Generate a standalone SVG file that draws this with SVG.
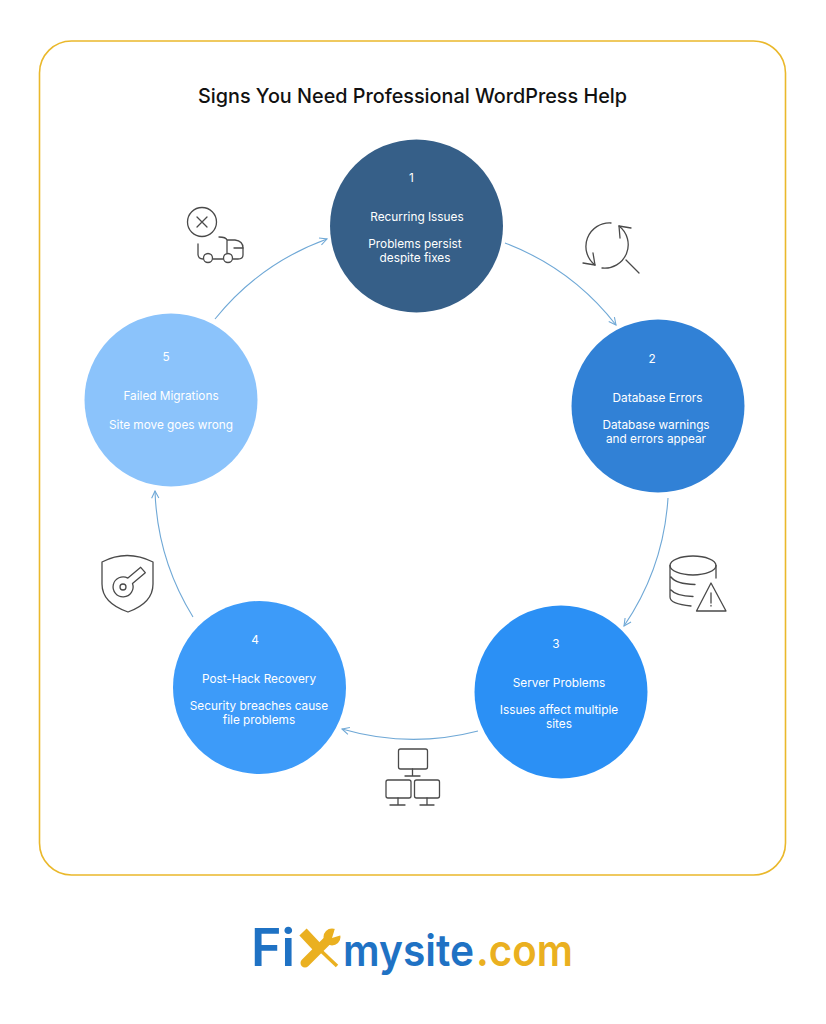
<svg xmlns="http://www.w3.org/2000/svg" width="826" height="1024" viewBox="0 0 826 1024">
<style>
.t{font-family:"Inter","Open Sans",sans-serif;font-size:11.800px;fill:#fff;text-anchor:middle}
.c{fill:none;stroke:#6fa8d6;stroke-width:1.1}
.i{fill:none;stroke:#4a4a4a;stroke-width:1.300;stroke-linecap:round;stroke-linejoin:round}
.l{font-family:"Inter","Open Sans",sans-serif;font-weight:600}
</style>
<defs>
<marker id="a" viewBox="0 0 10 10" refX="9" refY="5" markerWidth="9" markerHeight="9" orient="auto" markerUnits="userSpaceOnUse"><path d="M1 1L9 5L1 9" fill="none" stroke="#6fa8d6" stroke-width="1.2"/></marker>
</defs>
<rect width="826" height="1024" fill="#fff"/>
<rect x="39.500" y="41" width="746" height="834" rx="32" fill="#fff" stroke="#eab82b" stroke-width="1.600"/>
<text x="412.500" y="103" text-anchor="middle" font-family="Inter,Open Sans,sans-serif" font-size="20" font-weight="500" fill="#111" textLength="429" lengthAdjust="spacingAndGlyphs">Signs You Need Professional WordPress Help</text>
<g id="connectors">
<path class="c" marker-end="url(#a)" d="M505 243A256 256 0 0 1 616 325"/>
<path class="c" marker-end="url(#a)" d="M668 498A256 256 0 0 1 624 626"/>
<path class="c" marker-end="url(#a)" d="M478 731A256 256 0 0 1 342 729"/>
<path class="c" marker-end="url(#a)" d="M193 617A256 256 0 0 1 155 491"/>
<path class="c" marker-end="url(#a)" d="M215 319A256 256 0 0 1 327 239"/>
</g>
<g id="node1"><circle cx="416.500" cy="226" r="86.500" fill="#365f88"/>
<text class="t" x="411.500" y="182">1</text><text class="t" x="417" y="221">Recurring Issues</text><text class="t" x="415" y="248">Problems persist</text><text class="t" x="415" y="262">despite fixes</text></g>
<g id="node2"><circle cx="658" cy="406" r="86.500" fill="#3181d6"/>
<text class="t" x="652" y="363">2</text><text class="t" x="657.500" y="402">Database Errors</text><text class="t" x="656" y="429">Database warnings</text><text class="t" x="656" y="443">and errors appear</text></g>
<g id="node3"><circle cx="561" cy="692" r="86.500" fill="#2b90f5"/>
<text class="t" x="556" y="648">3</text><text class="t" x="559" y="687">Server Problems</text><text class="t" x="559" y="714">Issues affect multiple</text><text class="t" x="559" y="728">sites</text></g>
<g id="node4"><circle cx="259.500" cy="687.500" r="86.500" fill="#3d9bf9"/>
<text class="t" x="255" y="644">4</text><text class="t" x="259" y="683">Post-Hack Recovery</text><text class="t" x="259" y="710">Security breaches cause</text><text class="t" x="259" y="724">file problems</text></g>
<g id="node5"><circle cx="171" cy="400" r="86.500" fill="#8bc3fb"/>
<text class="t" x="166" y="361">5</text><text class="t" x="171" y="400">Failed Migrations</text><text class="t" x="171" y="429">Site move goes wrong</text></g>
<g id="icon-truck" class="i">
<circle cx="202" cy="222" r="14.500"/><path d="M197 217L207 227M207 217L197 227"/>
<path d="M198 244V254Q198 259 203 259M213 259H223M233 259H238Q243 259 243 255V248Q243 241 235 240H227M227 240Q226 237 219 237M227 240V253"/>
<circle cx="208" cy="258" r="4.500"/><circle cx="228" cy="258" r="4.500"/><path d="M234 248H243"/>
</g>
<g id="icon-refresh" class="i">
<path d="M611 223A23.500 23.500 0 0 0 595 265M602 268A23.500 23.500 0 0 0 619 226"/>
<path d="M583 263L595 265L593 253M631 228L619 226L620 238"/>
<path d="M626 260L639 273"/>
</g>
<g id="icon-db" class="i">
<ellipse cx="693" cy="565.500" rx="23" ry="9.500"/>
<path d="M670 565.500V597Q670 604 691 606M716 565.500V578M671 577Q676 584 695 584.500M671 590Q676 596 693 596.500"/>
<path d="M711 583L726 611H696.500Z"/><path d="M711 593V603M711 605.500V606"/>
</g>
<g id="icon-network" class="i">
<rect x="398.500" y="749" width="29" height="20" rx="2"/><path d="M412.500 769V776M405 776H420"/>
<rect x="386" y="780" width="25" height="18" rx="2"/><path d="M398 798V805M390 805H405"/>
<rect x="414.500" y="780" width="25" height="18" rx="2"/><path d="M427 798V805M420 805H434"/>
</g>
<g id="icon-shield" class="i">
<path d="M102 562Q127 549 153 562V584Q153 603 128 612Q102 603 102 584Z"/>
<path d="M127.900 578.100L140.700 567.300L145.300 572.700L132.500 583.500A10 10 0 1 1 127.900 578.100Z"/>
<circle cx="123" cy="587" r="3"/>
</g>
<g id="logo">
<text class="l" x="251" y="966" fill="#1f72c4" font-size="52" textLength="44" lengthAdjust="spacingAndGlyphs">Fi</text>
<g id="logo-tools">
<path d="M303 932L318 948" stroke="#eab020" stroke-width="10" fill="none"/>
<path d="M318 948L337 966" stroke="#eab020" stroke-width="3.500" fill="none"/>
<path d="M305 963L327 941" stroke="#eab020" stroke-width="9" stroke-linecap="round" fill="none"/>
<circle cx="332" cy="937" r="8.500" fill="#eab020"/>
<path d="M332 938L336 925L345 934Z" fill="#fff"/>
</g>
<text class="l" x="343" y="966" fill="#1f72c4" font-size="44" textLength="131" lengthAdjust="spacingAndGlyphs">mysite</text>
<text class="l" x="476" y="966" fill="#eab020" font-size="44" textLength="97" lengthAdjust="spacingAndGlyphs">.com</text>
</g>
</svg>
